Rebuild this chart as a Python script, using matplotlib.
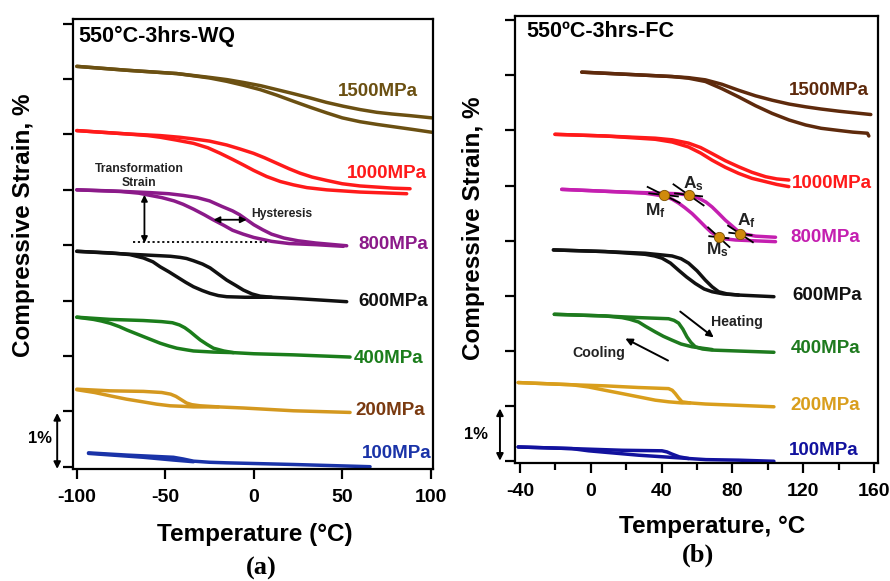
import matplotlib
matplotlib.use("Agg")
import matplotlib.pyplot as plt

plt.rcParams['font.family'] = ['Liberation Sans', 'DejaVu Sans']
plt.rcParams['font.weight'] = 'bold'
plt.rcParams['mathtext.fontset'] = 'custom'
plt.rcParams['mathtext.bf'] = 'Liberation Sans:bold'
plt.rcParams['mathtext.rm'] = 'Liberation Sans:bold'

# ---------------- Panel (a): 550C-3hrs-WQ ----------------
a1500_up_T = [-100, -71.8, -43.5, -24.7, -15, -5.9, 4, 13.0, 22, 31.8, 41, 50.6, 60, 69.5, 78, 88.3, 100.6]
a1500_up_s = [7.23, 7.16, 7.10, 7.03, 6.99, 6.94, 6.88, 6.81, 6.74, 6.66, 6.58, 6.51, 6.45, 6.40, 6.37, 6.34, 6.30]
a1500_lo_T = [-100, -71.8, -43.5, -34.1, -25, -15.3, -6, 3.6, 13, 22.4, 32, 41.2, 50, 60.1, 70, 78.9, 90, 100.6]
a1500_lo_s = [7.23, 7.16, 7.10, 7.06, 7.02, 6.96, 6.89, 6.81, 6.71, 6.60, 6.49, 6.39, 6.30, 6.23, 6.18, 6.14, 6.09, 6.04]

a1000_up_T = [-100, -71.8, -52.9, -42, -34.1, -25, -15.3, -8, -0.2, 6, 13.0, 20, 26.2, 33, 41.2, 50, 60.1, 78.9, 88.3]
a1000_up_s = [6.07, 6.01, 5.98, 5.95, 5.92, 5.88, 5.81, 5.74, 5.66, 5.58, 5.48, 5.38, 5.30, 5.23, 5.17, 5.11, 5.07, 5.03, 5.02]
a1000_lo_T = [-100, -71.8, -60, -52.9, -44, -34.1, -26, -19.0, -12, -5.9, 0, 7.3, 15, 22.4, 30, 41.2, 60.1, 86.4]
a1000_lo_s = [6.07, 6.01, 5.98, 5.95, 5.90, 5.84, 5.76, 5.66, 5.55, 5.45, 5.35, 5.24, 5.15, 5.09, 5.04, 5.00, 4.96, 4.93]

a800_up_T = [-100, -80, -58.6, -48, -40, -32, -25, -18, -12, -8, -4, 0, 5, 10, 17, 25, 35, 52.5]
a800_up_s = [5.00, 4.98, 4.95, 4.93, 4.90, 4.86, 4.80, 4.70, 4.62, 4.55, 4.46, 4.37, 4.28, 4.20, 4.13, 4.08, 4.04, 3.99]
a800_lo_T = [-100, -75, -65, -58.6, -52, -45, -40, -34, -28, -23, -17, -12, -6, 0, 10, 20, 35, 50.6]
a800_lo_s = [5.00, 4.97, 4.94, 4.90, 4.86, 4.80, 4.74, 4.65, 4.55, 4.46, 4.36, 4.27, 4.20, 4.14, 4.07, 4.03, 4.01, 3.98]

a600_up_T = [-100, -71.8, -52.9, -47, -41.6, -38, -34.1, -29, -24.7, -20, -15.3, -10, -5.9, -1, 3.6, 10, 22.4, 52.5]
a600_up_s = [3.89, 3.84, 3.81, 3.80, 3.78, 3.76, 3.72, 3.66, 3.59, 3.48, 3.37, 3.27, 3.19, 3.12, 3.08, 3.06, 3.04, 2.98]
a600_lo_T = [-100, -80, -70, -62.4, -57, -52.9, -48, -43.5, -38.5, -34.1, -29, -24.7, -20, -15.3, -5, 10]
a600_lo_s = [3.89, 3.86, 3.83, 3.77, 3.70, 3.61, 3.52, 3.43, 3.33, 3.25, 3.18, 3.13, 3.09, 3.07, 3.06, 3.06]

a400_up_T = [-100, -81.2, -62.4, -52, -46, -42, -39, -36, -33, -30.3, -26.5, -22.8, -17, -11.5, 0, 22.4, 54.4]
a400_up_s = [2.70, 2.66, 2.64, 2.62, 2.60, 2.56, 2.51, 2.44, 2.36, 2.29, 2.21, 2.14, 2.09, 2.06, 2.04, 2.02, 1.98]
a400_lo_T = [-100, -90.6, -86, -81.2, -76, -71.8, -62.4, -52.9, -48, -43.5, -38, -34.1, -22.8, -11.5]
a400_lo_s = [2.70, 2.66, 2.63, 2.59, 2.53, 2.47, 2.35, 2.23, 2.18, 2.14, 2.11, 2.09, 2.07, 2.06]

a200_up_T = [-100, -81.2, -62.4, -52, -47, -44, -41, -38, -35, -30.3, -20, -5.9, 22.4, 54.4]
a200_up_s = [1.40, 1.37, 1.36, 1.34, 1.31, 1.27, 1.21, 1.15, 1.12, 1.10, 1.08, 1.06, 1.01, 0.98]
a200_lo_T = [-100, -90, -81.2, -72, -62.4, -55, -47.3, -40, -34.1, -20]
a200_lo_s = [1.39, 1.34, 1.28, 1.22, 1.17, 1.13, 1.10, 1.09, 1.08, 1.08]

a100_up_T = [-93.4, -71.8, -45.4, -40, -34.1, -25, -15.3, 22.4, 65.7]
a100_up_s = [0.25, 0.21, 0.17, 0.14, 0.10, 0.08, 0.07, 0.04, 0.00]
a100_lo_T = [-93.4, -62.4, -45.4, -34.1]
a100_lo_s = [0.24, 0.17, 0.12, 0.09]

# ---------------- Panel (b): 550C-3hrs-FC ----------------
b1500_up_T = [-5.1, 27.0, 45.9, 55, 64.7, 74, 83.5, 93, 102.4, 112, 121.3, 130, 140.1, 158.1]
b1500_up_s = [7.06, 7.01, 6.98, 6.96, 6.92, 6.84, 6.73, 6.63, 6.55, 6.48, 6.43, 6.39, 6.35, 6.29]
b1500_lo_T = [-5.1, 27.0, 45.9, 55.2, 64.7, 74, 83.5, 93, 102.4, 112, 121.3, 130, 140.1, 148, 156.2, 157.0]
b1500_lo_s = [7.06, 7.01, 6.98, 6.95, 6.89, 6.76, 6.61, 6.45, 6.31, 6.19, 6.10, 6.04, 6.00, 5.97, 5.95, 5.90]

b1000_up_T = [-20.2, 8.1, 36.4, 46, 55.2, 62, 68.5, 76, 83.5, 91, 98.7, 105, 111.8]
b1000_up_s = [5.93, 5.90, 5.86, 5.83, 5.77, 5.69, 5.58, 5.45, 5.34, 5.24, 5.16, 5.12, 5.10]
b1000_lo_T = [-20.2, 8.1, 36.4, 46, 55.2, 62, 68.5, 76, 83.5, 91, 98.7, 105, 111.8]
b1000_lo_s = [5.93, 5.90, 5.84, 5.79, 5.70, 5.59, 5.46, 5.33, 5.22, 5.13, 5.07, 5.02, 4.98]

b800_up_T = [-16.4, 11.9, 30.7, 49.6, 56, 60.9, 65, 68.5, 72, 76.0, 80, 83.5, 88, 93.0, 104.3]
b800_up_s = [4.93, 4.89, 4.87, 4.85, 4.82, 4.77, 4.70, 4.61, 4.50, 4.37, 4.26, 4.16, 4.11, 4.08, 4.06]
b800_lo_T = [-16.4, 11.9, 30.7, 37, 42.1, 46, 49.6, 53, 57.2, 61, 64.7, 68, 72.2, 76, 81.7, 104.3]
b800_lo_s = [4.93, 4.89, 4.86, 4.83, 4.80, 4.75, 4.68, 4.60, 4.49, 4.37, 4.25, 4.15, 4.07, 4.03, 4.01, 3.98]

b600_up_T = [-21.1, 8.1, 30.7, 45.9, 51, 55.2, 60, 64.7, 68.5, 72.2, 77, 83.5, 103.4]
b600_up_s = [3.83, 3.80, 3.77, 3.72, 3.67, 3.59, 3.45, 3.28, 3.16, 3.07, 3.03, 3.01, 2.98]
b600_lo_T = [-21.1, 8.1, 30.7, 36, 40.2, 45, 49.6, 54, 59.0, 64, 68.5, 75, 83.5]
b600_lo_s = [3.83, 3.80, 3.75, 3.72, 3.68, 3.59, 3.46, 3.34, 3.22, 3.12, 3.07, 3.03, 3.01]

b400_up_T = [-20.6, 8.1, 27.0, 43.9, 47, 49.6, 52, 54.3, 56.5, 59.0, 63, 68.5, 103.4]
b400_up_s = [2.66, 2.63, 2.60, 2.58, 2.55, 2.50, 2.39, 2.25, 2.15, 2.07, 2.03, 2.01, 1.97]
b400_lo_T = [-20.6, 8.1, 17.6, 22, 27.0, 31, 36.4, 41, 45.9, 51, 57.2, 68.5]
b400_lo_s = [2.66, 2.63, 2.60, 2.57, 2.52, 2.44, 2.34, 2.26, 2.19, 2.12, 2.07, 2.02]

b200_up_T = [-41.0, -10.7, 8.1, 27.0, 43.9, 46, 47.7, 49.6, 51.5, 56, 64.7, 103.4]
b200_up_s = [1.42, 1.38, 1.36, 1.33, 1.31, 1.28, 1.22, 1.14, 1.07, 1.05, 1.03, 0.98]
b200_lo_T = [-41.0, -10.7, -1.3, 8, 17.6, 27, 36.4, 44, 51.5, 56]
b200_lo_s = [1.42, 1.38, 1.34, 1.28, 1.22, 1.16, 1.10, 1.07, 1.05, 1.05]

b100_up_T = [-41.0, -10.7, 17.6, 40.2, 43, 45.9, 50, 55.2, 65, 83.5, 103.4]
b100_up_s = [0.25, 0.22, 0.19, 0.18, 0.16, 0.12, 0.07, 0.04, 0.02, 0.01, -0.01]
b100_lo_T = [-41.0, -10.7, -1.3, 27.0, 45.9, 55.2]
b100_lo_s = [0.25, 0.22, 0.18, 0.10, 0.06, 0.04]

# transformation temperatures (800 MPa, FC)
tt_names = ['M_f', 'A_s', 'M_s', 'A_f']
tt_T = [41.1, 55.2, 72.3, 84.5]
tt_s = [4.83, 4.83, 4.06, 4.12]
tt_slope = [-0.016, -0.0225, -0.0295, -0.0215]   # tangent slopes, %/degC

stress_labels = ['1500MPa', '1000MPa', '800MPa', '600MPa', '400MPa', '200MPa', '100MPa']
xticks_a = [-100, -50, 0, 50, 100]
xticks_b = [-40, 0, 40, 80, 120, 160]
yticks = [0, 1, 2, 3, 4, 5, 6, 7, 8]

# ---------------- styling ----------------
cols_a = ['#6B5012', '#FF1A1A', '#8B1A89', '#111111', '#1B7D1B', '#D4981F', '#1A33A8']
lab_cols_a = ['#6B5012', '#FF1A1A', '#8B1A89', '#111111', '#1B7D1B', '#7A3A10', '#1A33A8']
cols_b = ['#5E2A0C', '#FF1A1A', '#C41FB0', '#111111', '#1E7A1E', '#D99E1C', '#12129E']
lab_pos_a = [(70.4, 6.78), (75.1, 5.30), (78.7, 4.01), (78.9, 2.98), (76.0, 1.96), (77.0, 1.02), (80.8, 0.23)]
lab_pos_b = [(134.5, 6.73), (136.4, 5.04), (132.6, 4.06), (133.6, 3.00), (132.6, 2.04), (132.6, 1.01), (131.6, 0.18)]
LW = 2.5

fig = plt.figure(figsize=(8.9, 5.81), dpi=100)
axa = fig.add_axes([73.3 / 890, 1 - 469.3 / 581, (432.7 - 73.3) / 890, (469.3 - 19.3) / 581])
axb = fig.add_axes([515 / 890, 1 - 463.3 / 581, (877.7 - 515) / 890, (463.3 - 16) / 581])

curves_a = [(a1500_up_T, a1500_up_s, a1500_lo_T, a1500_lo_s),
            (a1000_up_T, a1000_up_s, a1000_lo_T, a1000_lo_s),
            (a800_up_T, a800_up_s, a800_lo_T, a800_lo_s),
            (a600_up_T, a600_up_s, a600_lo_T, a600_lo_s),
            (a400_up_T, a400_up_s, a400_lo_T, a400_lo_s),
            (a200_up_T, a200_up_s, a200_lo_T, a200_lo_s),
            (a100_up_T, a100_up_s, a100_lo_T, a100_lo_s)]
curves_b = [(b1500_up_T, b1500_up_s, b1500_lo_T, b1500_lo_s),
            (b1000_up_T, b1000_up_s, b1000_lo_T, b1000_lo_s),
            (b800_up_T, b800_up_s, b800_lo_T, b800_lo_s),
            (b600_up_T, b600_up_s, b600_lo_T, b600_lo_s),
            (b400_up_T, b400_up_s, b400_lo_T, b400_lo_s),
            (b200_up_T, b200_up_s, b200_lo_T, b200_lo_s),
            (b100_up_T, b100_up_s, b100_lo_T, b100_lo_s)]

for i, (uT, us, lT, ls) in enumerate(curves_a):
    axa.plot(uT, us, color=cols_a[i], lw=LW, solid_capstyle='round', solid_joinstyle='round')
    axa.plot(lT, ls, color=cols_a[i], lw=LW, solid_capstyle='round', solid_joinstyle='round')
    axa.text(lab_pos_a[i][0], lab_pos_a[i][1], stress_labels[i], color=lab_cols_a[i],
             fontsize=13.5, fontweight='bold', ha='center', va='center')
for i, (uT, us, lT, ls) in enumerate(curves_b):
    axb.plot(uT, us, color=cols_b[i], lw=LW, solid_capstyle='round', solid_joinstyle='round')
    axb.plot(lT, ls, color=cols_b[i], lw=LW, solid_capstyle='round', solid_joinstyle='round')
    axb.text(lab_pos_b[i][0], lab_pos_b[i][1], stress_labels[i], color=cols_b[i],
             fontsize=13.5, fontweight='bold', ha='center', va='center')

for ax, xl, xt in [(axa, (-102, 101.1), xticks_a), (axb, (-42.8, 162), xticks_b)]:
    ax.set_xlim(*xl)
    ax.set_ylim(-0.047, 8.08)
    ax.set_xticks(xt)
    ax.set_xticklabels([str(v) for v in xt])
    ax.set_yticks(yticks)
    ax.set_yticklabels([])
    for sp in ax.spines.values():
        sp.set_linewidth(1.6)
        sp.set_color('black')
    ax.tick_params(axis='both', which='major', direction='out', length=7.5, width=1.6,
                   labelsize=14, pad=7)
    for lab in ax.get_xticklabels():
        lab.set_fontweight('bold')

axb.set_xticks([-20, 20, 60, 100, 140], minor=True)
axb.tick_params(axis='x', which='minor', direction='out', length=5, width=1.6)

# titles in panels
axa.text(0.014, 0.961, '550\u00b0C-3hrs-WQ', transform=axa.transAxes, fontsize=15.5,
         fontweight='bold', ha='left', va='center')
axb.text(0.032, 0.965, '550\u00baC-3hrs-FC', transform=axb.transAxes, fontsize=15.5,
         fontweight='bold', ha='left', va='center')

# axis labels
fig.text(23.3 / 890, 1 - 225 / 581, 'Compressive Strain, %', rotation=90, fontsize=17.5,
         fontweight='bold', ha='center', va='center')
fig.text(473.3 / 890, 1 - 228 / 581, 'Compressive Strain, %', rotation=90, fontsize=17.5,
         fontweight='bold', ha='center', va='center')
fig.text(255 / 890, 1 - 535 / 581, 'Temperature (\u00b0C)', fontsize=17.5, fontweight='bold',
         ha='center', va='center')
fig.text(711.7 / 890, 1 - 526.7 / 581, 'Temperature, \u00b0C', fontsize=17.5, fontweight='bold',
         ha='center', va='center')
fig.text(261.7 / 890, 1 - 568.3 / 581, '(a)', fontsize=19, fontweight='bold',
         family='Liberation Serif', ha='center', va='center')
fig.text(698.3 / 890, 1 - 555 / 581, '(b)', fontsize=19, fontweight='bold',
         family='Liberation Serif', ha='center', va='center')

# 1% scale bars
arrow_kw = dict(arrowstyle='<|-|>', color='black', lw=1.4, mutation_scale=10,
                shrinkA=0, shrinkB=0)
axa.annotate('', xy=(-111.1, -0.04), xytext=(-111.1, 0.97), xycoords='data',
             arrowprops=arrow_kw, annotation_clip=False)
axa.text(-121.0, 0.51, '1%', fontsize=12, fontweight='bold', ha='center', va='center',
         clip_on=False)
axb.annotate('', xy=(-51.3, 0.0), xytext=(-51.3, 0.95), xycoords='data',
             arrowprops=arrow_kw, annotation_clip=False)
axb.text(-65.0, 0.47, '1%', fontsize=12, fontweight='bold', ha='center', va='center',
         clip_on=False)

# panel (a) annotations
axa.annotate('', xy=(-61.8, 4.04), xytext=(-61.8, 4.91),
             arrowprops=dict(arrowstyle='<|-|>', color='black', lw=1.3, mutation_scale=9,
                             shrinkA=0, shrinkB=0))
axa.plot([-68, 7.3], [4.05, 4.05], color='black', lw=1.3, ls=(0, (1.2, 1.5)))
axa.text(-64.8, 5.25, 'Transformation\nStrain', fontsize=8.7, fontweight='bold',
         ha='center', va='center', linespacing=1.15, color='#222222')
axa.annotate('', xy=(-22.8, 4.46), xytext=(-4.0, 4.46),
             arrowprops=dict(arrowstyle='<|-|>', color='black', lw=1.3, mutation_scale=9,
                             shrinkA=0, shrinkB=0))
axa.text(-1.2, 4.56, 'Hysteresis', fontsize=8.7, fontweight='bold', ha='left', va='center',
         color='#222222')

# panel (b) annotations: heating/cooling arrows
axb.annotate('', xy=(69.4, 2.24), xytext=(50.5, 2.71),
             arrowprops=dict(arrowstyle='-|>', color='black', lw=1.4, mutation_scale=10,
                             shrinkA=0, shrinkB=0))
axb.text(82.6, 2.52, 'Heating', fontsize=10.2, fontweight='bold', ha='center', va='center',
         color='#222222')
axb.annotate('', xy=(19.5, 2.22), xytext=(43.6, 1.82),
             arrowprops=dict(arrowstyle='-|>', color='black', lw=1.4, mutation_scale=10,
                             shrinkA=0, shrinkB=0))
axb.text(4.7, 1.96, 'Cooling', fontsize=10.2, fontweight='bold', ha='center', va='center',
         color='#222222')

# transformation temperature tangents and markers
half = [9.0, 8.5, 6.0, 7.0]
for T0, s0, k, h in zip(tt_T, tt_s, tt_slope, half):
    axb.plot([T0 - h, T0 + h], [s0 - k * h, s0 + k * h], color='black', lw=1.3, zorder=4)
    axb.plot([T0 - h * 0.9, T0 + h * 0.9], [s0 + 0.0035 * h * 0.9, s0 - 0.0035 * h * 0.9],
             color='black', lw=1.3, zorder=4)
axb.scatter(tt_T, tt_s, s=55, color='#D08A0C', edgecolor='#7A5000', linewidth=0.6, zorder=5)
tt_lab_pos = [(36.4, 4.55), (58.1, 5.04), (71.3, 3.84), (87.9, 4.37)]
for name, (lx, ly) in zip(tt_names, tt_lab_pos):
    axb.text(lx, ly, r'$\mathbf{%s}$' % name, fontsize=12.5, ha='center', va='center',
             color='#222222')

fig.savefig('out.png', dpi=100)
